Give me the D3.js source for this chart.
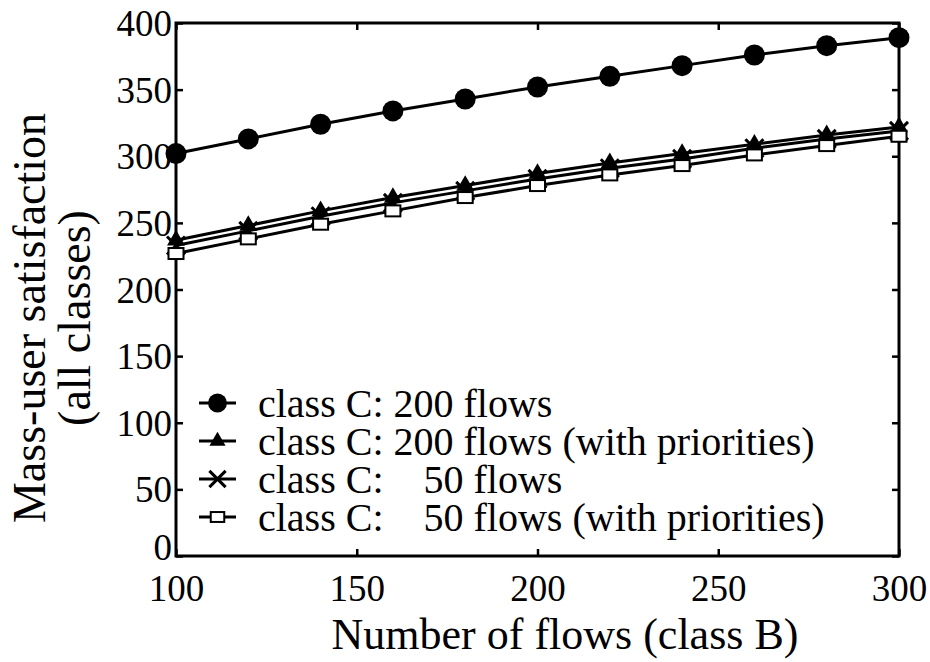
<!DOCTYPE html>
<html><head><meta charset="utf-8">
<script src="https://cdn.jsdelivr.net/npm/d3@7"></script>
<style>body{margin:0;background:#fff}svg{display:block}text{font-family:"Liberation Serif","Times New Roman",serif;fill:#000}</style>
</head><body><svg id="c" width="930" height="662"></svg>
<script>
const flowsB = [100,120,140,160,180,200,220,240,260,280,300];
const c200 = [302,313,324,334,343,352,360,368,376,383,389];
const c200prio = [237,248,259,269,278,287,295,302,309,316,322];
const c50 = [233,244,255,265,274,283,291,298,306,313,319];
const c50prio = [227,238,249,259,269,278,286,293,301,308,315];
const seriesNames = ["class C: 200 flows","class C: 200 flows (with priorities)","class C:    50 flows","class C:    50 flows (with priorities)"];
const markerTypes = ["circle","triangle","cross","square"];
const xTicks = [100,150,200,250,300];
const yTicks = [0,50,100,150,200,250,300,350,400];
const xTitle = "Number of flows (class B)";
const yTitle = ["Mass-user satisfaction","(all classes)"];

const series = [c200,c200prio,c50,c50prio].map((v,i)=>({name:seriesNames[i],marker:markerTypes[i],values:v}));

const L=176,R=899,T=23,B=556;
const svg=d3.select("#c");
const x=d3.scaleLinear().domain([100,300]).range([L,R]);
const y=d3.scaleLinear().domain([0,400]).range([B,T]);

const tk=7;
const gx=svg.append("g").attr("transform",`translate(0,${B})`).call(d3.axisBottom(x).tickValues(xTicks).tickSizeInner(-tk).tickSizeOuter(0).tickPadding(19));
const gy=svg.append("g").attr("transform",`translate(${L},0)`).call(d3.axisLeft(y).tickValues(yTicks).tickSizeInner(-tk).tickSizeOuter(0).tickPadding(4));
svg.append("g").attr("transform",`translate(0,${T})`).call(d3.axisTop(x).tickValues(xTicks).tickSizeInner(-tk).tickSizeOuter(0).tickFormat(""));
svg.append("g").attr("transform",`translate(${R},0)`).call(d3.axisRight(y).tickValues(yTicks).tickSizeInner(-tk).tickSizeOuter(0).tickFormat(""));
svg.selectAll(".domain").remove();
svg.selectAll(".tick line").attr("stroke","#000").attr("stroke-width",2.5);
gx.selectAll("text").style("font-size","37px").style("font-family","Liberation Serif");
gy.selectAll("text").style("font-size","37px").style("font-family","Liberation Serif").attr("dy","0.34em");
gy.selectAll(".tick").filter(d=>d===0).select("text").attr("dy","0.1em");
svg.append("rect").attr("x",L).attr("y",T).attr("width",R-L).attr("height",B-T).attr("fill","none").attr("stroke","#000").attr("stroke-width",3);

const line=d3.line().x((d,i)=>x(flowsB[i])).y(d=>y(d));

function drawMarker(g,type,cx,cy,s){
  if(type==="circle") g.append("circle").attr("cx",cx).attr("cy",cy).attr("r",10.5*s).attr("fill","#000");
  else if(type==="triangle") g.append("path").attr("transform",`translate(${cx},${cy})`).attr("d",d3.symbol(d3.symbolTriangle,140*s*s)()).attr("fill","#000");
  else if(type==="cross") { const r=9*s; g.append("path").attr("d",`M${cx-r},${cy-r}L${cx+r},${cy+r}M${cx-r},${cy+r}L${cx+r},${cy-r}`).attr("stroke","#000").attr("stroke-width",3).attr("fill","none"); }
  else if(type==="square") g.append("rect").attr("x",cx-7.5*s).attr("y",cy-5.5*s).attr("width",15*s).attr("height",11*s).attr("fill","#fff").attr("stroke","#000").attr("stroke-width",2);
}

series.forEach(s=>{
  const g=svg.append("g");
  g.append("path").datum(s.values).attr("d",line).attr("fill","none").attr("stroke","#000").attr("stroke-width",3);
  s.values.forEach((v,i)=>drawMarker(g,s.marker,x(flowsB[i]),y(v),1));
});

const lg=svg.append("g");
series.forEach((s,i)=>{
  const cy=403+i*38;
  lg.append("line").attr("x1",199).attr("x2",236).attr("y1",cy).attr("y2",cy).attr("stroke","#000").attr("stroke-width",3);
  drawMarker(lg,s.marker,217.5,cy,0.9);
  lg.append("text").attr("x",258).attr("y",cy).attr("dy","0.34em").style("font-size","40px").style("white-space","pre").attr("xml:space","preserve").text(s.name);
});

svg.append("text").attr("x",565).attr("y",649).attr("text-anchor","middle").style("font-size","44px").text(xTitle);
const yt=svg.append("text").attr("transform",`translate(0,318) rotate(-90)`).attr("text-anchor","middle").style("font-size","46px");
yt.append("tspan").attr("x",0).attr("y",45).text(yTitle[0]);
yt.append("tspan").attr("x",0).attr("y",90).text(yTitle[1]);
</script></body></html>
